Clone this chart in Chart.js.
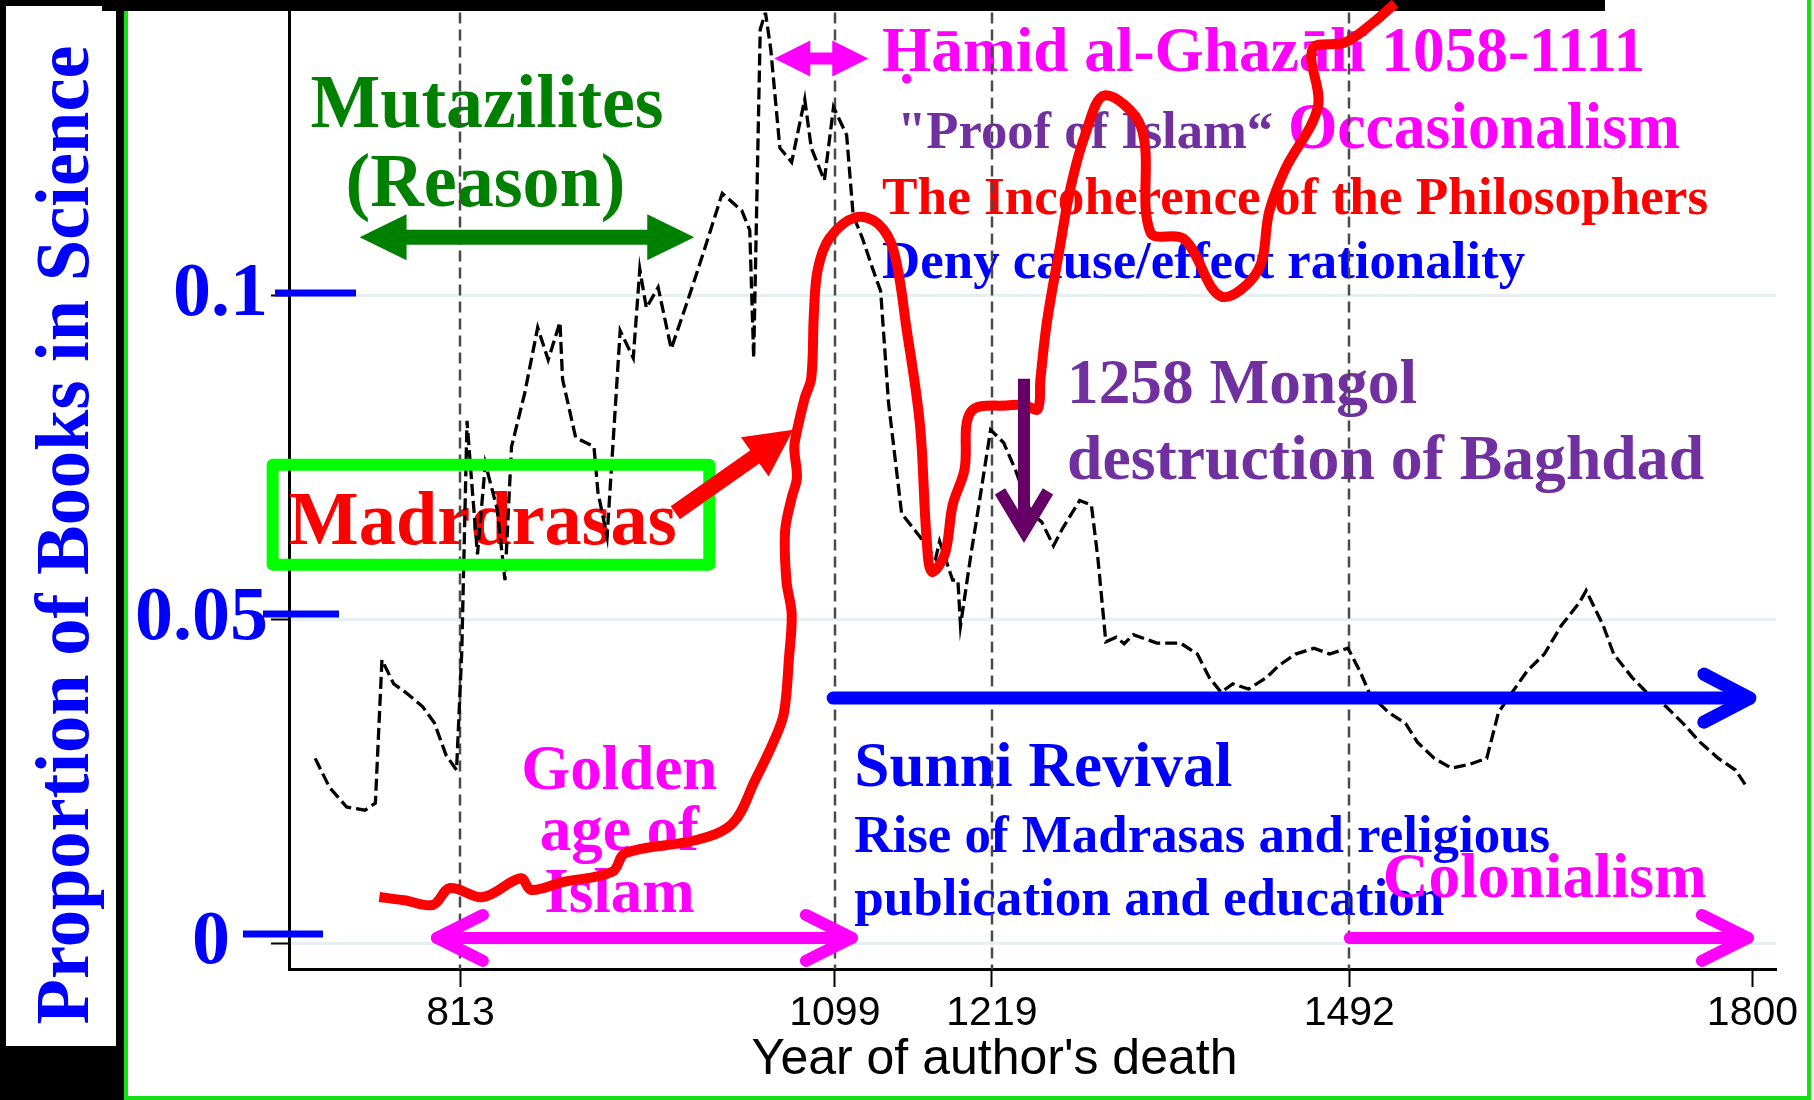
<!DOCTYPE html>
<html>
<head>
<meta charset="utf-8">
<script src="https://cdn.jsdelivr.net/npm/chart.js@4.4.1/dist/chart.umd.min.js"></script>
<style>
  html, body { margin: 0; padding: 0; background: #fff; }
  #wrap { width: 1814px; height: 1100px; }
</style>
</head>
<body>
<div id="wrap"><canvas id="scienceChart" width="1814" height="1100"></canvas></div>
<script>
// share of books in science, by year of the author's death (dashed black)
const scienceYears = [702, 713, 726, 740, 748, 753, 762, 771, 784, 793, 802, 810, 814, 818, 822, 826, 832, 841, 847, 852,
  862, 872, 880, 889, 891, 901, 915, 918, 925, 935, 945, 950, 955, 964, 974, 989, 999, 1013, 1028, 1034,
  1037, 1042, 1046, 1050, 1057, 1066, 1076, 1081, 1091, 1098, 1108, 1113, 1120, 1128, 1134, 1140, 1150, 1164, 1176, 1179,
  1189, 1193, 1195, 1203, 1208, 1218, 1228, 1237, 1249, 1257, 1266, 1273, 1286, 1295, 1300, 1306, 1314, 1320, 1327, 1345,
  1363, 1376, 1385, 1394, 1403, 1415, 1429, 1438, 1451, 1465, 1477, 1491, 1500, 1508, 1522, 1535, 1544, 1557, 1570, 1584,
  1597, 1606, 1615, 1628, 1641, 1654, 1668, 1673, 1686, 1694, 1708, 1721, 1734, 1747, 1760, 1774, 1787, 1796];
const scienceShare = [0.0285, 0.0240, 0.0210, 0.0205, 0.0216, 0.0437, 0.0400, 0.0387, 0.0365, 0.0340, 0.0290, 0.0267, 0.0450, 0.0806, 0.0700, 0.0600, 0.0740, 0.0670, 0.0560, 0.0766,
  0.0848, 0.0950, 0.0900, 0.0958, 0.0870, 0.0780, 0.0766, 0.0696, 0.0627, 0.0945, 0.0903, 0.1040, 0.0980, 0.1012, 0.0917, 0.1006, 0.1068, 0.1157, 0.1130, 0.1100,
  0.0903, 0.1410, 0.1436, 0.1380, 0.1227, 0.1205, 0.1302, 0.1227, 0.1177, 0.1290, 0.1247, 0.1123, 0.1088, 0.1040, 0.1006, 0.0834, 0.0663, 0.0627, 0.0593, 0.0620,
  0.0560, 0.0560, 0.0490, 0.0600, 0.0663, 0.0792, 0.0772, 0.0730, 0.0663, 0.0650, 0.0613, 0.0640, 0.0683, 0.0676, 0.0593, 0.0465, 0.0472, 0.0462, 0.0476, 0.0463,
  0.0463, 0.0446, 0.0410, 0.0387, 0.0400, 0.0392, 0.0410, 0.0428, 0.0446, 0.0455, 0.0446, 0.0455, 0.0420, 0.0383, 0.0356, 0.0339, 0.0310, 0.0285, 0.0270, 0.0276,
  0.0285, 0.0356, 0.0383, 0.0420, 0.0446, 0.0490, 0.0526, 0.0544, 0.0490, 0.0446, 0.0410, 0.0383, 0.0365, 0.0339, 0.0310, 0.0285, 0.0267, 0.0240];

// hand drawn madrasa curve (thick red)
const madrasaYears = [751, 770, 792, 805, 830, 859, 867, 891, 929, 939, 993, 1021, 1038, 1052, 1060, 1064, 1066, 1062, 1061, 1066,
  1070, 1068, 1070, 1076, 1081, 1083, 1086, 1095, 1115, 1132, 1144, 1154, 1164, 1169, 1173, 1183, 1189, 1198, 1203, 1232,
  1244, 1254, 1256, 1261, 1271, 1279, 1290, 1305, 1333, 1340, 1366, 1394, 1422, 1431, 1443, 1468, 1464, 1489, 1510, 1527];
const madrasaShare = [0.0071, 0.0066, 0.0059, 0.0085, 0.0071, 0.0100, 0.0082, 0.0094, 0.0110, 0.0139, 0.0159, 0.0185, 0.0251, 0.0310, 0.0354, 0.0441, 0.0508, 0.0559, 0.0636, 0.0687,
  0.0718, 0.0764, 0.0790, 0.0841, 0.0872, 0.0972, 0.1040, 0.1088, 0.1120, 0.1110, 0.1068, 0.0945, 0.0800, 0.0627, 0.0573, 0.0600, 0.0676, 0.0730, 0.0820, 0.0830,
  0.0830, 0.0824, 0.0869, 0.0958, 0.1075, 0.1165, 0.1246, 0.1308, 0.1259, 0.1097, 0.1086, 0.0998, 0.1037, 0.1130, 0.1194, 0.1290, 0.1380, 0.1390, 0.1420, 0.1450];

const xTickYears = [813, 1099, 1219, 1492, 1800];
const eventYears = [813, 1099, 1219, 1492];
const yTickValues = [0, 0.05, 0.1];
const yTickLabels = ['0  ', '0.05', '0.1'];

const SERIF = '"Liberation Serif", "Times New Roman", serif';
const SANS = '"Liberation Sans", Arial, sans-serif';
const GREEN = '#008000', MAGENTA = '#ff00ff', PURPLE = '#7030a0', RED = '#ff0000', BLUE = '#0000ff';

// annotation texts: [text, year, value, size, colour, width, align]
const notes = [
  ['Mutazilites', 698.5, 0.1259, 76, GREEN, 353],
  ['(Reason)', 725.2, 0.1137, 76, GREEN, 280],
  ['\u1E24\u0101mid al-Ghaz\u0101l\u012B 1058-1111', 1135.1, 0.1345, 64, MAGENTA, 763],
  ['"Proof of Islam\u201C', 1146.6, 0.1227, 53, PURPLE, 376],
  ['Occasionalism', 1445.1, 0.1227, 66, MAGENTA, 392],
  ['The Incoherence of the Philosophers', 1135.1, 0.1125, 53, RED, 826],
  ['Deny cause/effect rationality', 1135.1, 0.1026, 53, BLUE, 643],
  ['1258 Mongol', 1276.4, 0.0834, 64, PURPLE, 350],
  ['destruction of Baghdad', 1276.4, 0.0716, 64, PURPLE, 637],
  ['Madrdrasas', 681.7, 0.0616, 76, RED, 388],
  ['Sunni Revival', 1113.8, 0.0243, 63, BLUE, 378],
  ['Rise of Madrasas and religious', 1113.8, 0.0140, 52, BLUE, 696],
  ['publication and education', 1113.8, 0.0043, 52, BLUE, 590],
  ['Colonialism', 1517.6, 0.0071, 64, MAGENTA, 324],
  ['Golden', 934.4, 0.0237, 63, MAGENTA, 0, 'center'],
  ['age of', 934.4, 0.0143, 63, MAGENTA, 0, 'center'],
  ['Islam', 934.4, 0.0048, 63, MAGENTA, 0, 'center']
];

function drawText(ctx, text, x, y, size, color, width, align, family, weight) {
  ctx.save();
  ctx.font = (weight || 'bold') + ' ' + size + 'px ' + (family || SERIF);
  ctx.fillStyle = color;
  ctx.textBaseline = 'alphabetic';
  ctx.textAlign = align || 'left';
  ctx.translate(x, y);
  if (width) ctx.scale(width / ctx.measureText(text).width, 1);
  ctx.fillText(text, 0, 0);
  ctx.restore();
}

function triArrow(ctx, x1, y1, x2, y2, shaft, len, half, color, both) {
  const a = Math.atan2(y2 - y1, x2 - x1);
  const ux = Math.cos(a), uy = Math.sin(a);
  ctx.save();
  ctx.fillStyle = color;
  ctx.strokeStyle = color;
  ctx.lineWidth = shaft;
  ctx.beginPath();
  ctx.moveTo(both ? x1 + ux * len * 0.8 : x1, both ? y1 + uy * len * 0.8 : y1);
  ctx.lineTo(x2 - ux * len * 0.8, y2 - uy * len * 0.8);
  ctx.stroke();
  const head = (tx, ty, ang) => {
    const cx = Math.cos(ang), cy = Math.sin(ang);
    const bx = tx - cx * len, by = ty - cy * len;
    ctx.beginPath();
    ctx.moveTo(tx, ty);
    ctx.lineTo(bx - cy * half, by + cx * half);
    ctx.lineTo(bx + cy * half, by - cx * half);
    ctx.closePath();
    ctx.fill();
  };
  head(x2, y2, a);
  if (both) head(x1, y1, a + Math.PI);
  ctx.restore();
}

function chevronArrow(ctx, x1, y1, x2, y2, width, back, half, color, both, join) {
  ctx.save();
  ctx.strokeStyle = color;
  ctx.lineWidth = width;
  ctx.lineCap = join === 'miter' ? 'butt' : 'round';
  ctx.lineJoin = join || 'round';
  ctx.beginPath();
  ctx.moveTo(x1, y1);
  ctx.lineTo(x2, y2);
  ctx.stroke();
  const a = Math.atan2(y2 - y1, x2 - x1);
  const wing = (tx, ty, ang) => {
    const cx = Math.cos(ang), cy = Math.sin(ang);
    const bx = tx - cx * back, by = ty - cy * back;
    ctx.beginPath();
    ctx.moveTo(bx - cy * half, by + cx * half);
    ctx.lineTo(tx, ty);
    ctx.lineTo(bx + cy * half, by - cx * half);
    ctx.stroke();
  };
  wing(x2, y2, a);
  if (both) wing(x1, y1, a + Math.PI);
  ctx.restore();
}

const overlay = {
  id: 'overlay',
  beforeDraw(chart) {
    const ctx = chart.ctx;
    const W = chart.width, H = chart.height;
    ctx.save();
    ctx.fillStyle = '#fff';
    ctx.fillRect(0, 0, W, H);
    ctx.fillStyle = '#000';
    ctx.fillRect(0, 0, 124, H);
    ctx.fillStyle = '#fff';
    ctx.fillRect(6, 6, 110, 1040);
    ctx.fillStyle = '#000';
    ctx.fillRect(102, 0, 1503, 11);
    // green frame
    ctx.strokeStyle = '#16e016';
    ctx.lineWidth = 4;
    ctx.beginPath();
    ctx.moveTo(126, 11); ctx.lineTo(126, H - 2); ctx.lineTo(1809, H - 2); ctx.lineTo(1809, 0);
    ctx.stroke();
    // rotated axis title
    ctx.translate(88, 535);
    ctx.rotate(-Math.PI / 2);
    drawText(ctx, 'Proportion of Books in Science', 0, 0, 76, BLUE, 979, 'center');
    ctx.restore();
  },
  beforeDatasetsDraw(chart) {
    const ctx = chart.ctx;
    const xs = chart.scales.x, ys = chart.scales.y, area = chart.chartArea;
    notes.forEach(n => drawText(ctx, n[0], xs.getPixelForValue(n[1]), ys.getPixelForValue(n[2]), n[3], n[4], n[5], n[6]));
    ctx.save();
    ctx.strokeStyle = '#4a4a4a';
    ctx.lineWidth = 2.5;
    ctx.setLineDash([11, 6]);
    eventYears.forEach(yr => {
      const px = Math.round(xs.getPixelForValue(yr));
      ctx.beginPath();
      ctx.moveTo(px, area.top);
      ctx.lineTo(px, area.bottom);
      ctx.stroke();
    });
    ctx.restore();
  },
  afterDatasetsDraw(chart) {
    const ctx = chart.ctx;
    const xs = chart.scales.x, ys = chart.scales.y, area = chart.chartArea;
    const X = v => xs.getPixelForValue(v), Y = v => ys.getPixelForValue(v);

    // blue dashes over the y ticks
    ctx.save();
    ctx.strokeStyle = BLUE;
    ctx.lineWidth = 7;
    [[0.1, -14, 67, -2], [0.05, -26, 50, -5], [0, -46, 34, -9]].forEach(d => {
      ctx.beginPath();
      ctx.moveTo(area.left + d[1], Y(d[0]) + d[3]);
      ctx.lineTo(area.left + d[2], Y(d[0]) + d[3]);
      ctx.stroke();
    });
    ctx.restore();

    // green box round the Madrasas label
    ctx.save();
    ctx.strokeStyle = '#00ff00';
    ctx.lineWidth = 12;
    ctx.lineJoin = 'round';
    ctx.strokeRect(X(669.5), Y(0.0738), X(1003.1) - X(669.5), Y(0.0584) - Y(0.0738));
    ctx.restore();

    triArrow(ctx, X(735.9), Y(0.1089), X(991.6), Y(0.1089), 15, 47, 23, GREEN, true);
    triArrow(ctx, X(1052.7), Y(0.1365), X(1124.5), Y(0.1365), 12, 36, 18, MAGENTA, true);
    triArrow(ctx, X(977.1), Y(0.0664), X(1067.2), Y(0.0792), 16, 47, 24, RED, false);
    chevronArrow(ctx, X(1243.5), Y(0.0871), X(1243.5), Y(0.0626) - 6, 12, 40, 24, '#660066', false, 'miter');
    chevronArrow(ctx, X(1097.7), Y(0.0378), X(1798), Y(0.0378), 13, 46, 24, BLUE, false);
    chevronArrow(ctx, X(1492.4), Y(0.0008), X(1796.5), Y(0.0008), 12, 46, 23, MAGENTA, false);
    chevronArrow(ctx, X(795), Y(0.0008), X(1112), Y(0.0008), 12, 46, 23, MAGENTA, true);

    // x axis title, centred where the original sits
    drawText(ctx, "Year of author's death", X(1221), 1074, 50, '#000', 0, 'center', SANS, 'normal');
  }
};

const ctx = document.getElementById('scienceChart').getContext('2d');

new Chart(ctx, {
  type: 'line',
  data: {
    datasets: [{
      label: 'Madrasas',
      data: madrasaYears.map((yr, i) => ({ x: yr, y: madrasaShare[i] })),
      borderColor: RED,
      borderWidth: 10,
      pointRadius: 0,
      tension: 0.35,
      clip: false,
      order: 0
    }, {
      label: 'Proportion of books in science',
      data: scienceYears.map((yr, i) => ({ x: yr, y: scienceShare[i] })),
      borderColor: '#000',
      borderWidth: 3.3,
      borderDash: [12, 5],
      pointRadius: 0,
      tension: 0,
      order: 1
    }]
  },
  options: {
    responsive: false,
    devicePixelRatio: 1,
    animation: false,
    layout: { padding: { top: 11, right: 38, left: 0, bottom: 0 } },
    plugins: {
      legend: { display: false },
      tooltip: { enabled: false }
    },
    scales: {
      x: {
        type: 'linear',
        min: 682,
        max: 1818,
        afterBuildTicks: s => { s.ticks = xTickYears.map(v => ({ value: v })); },
        afterFit: s => { s.height = 131; },
        ticks: {
          color: '#000',
          font: { family: SANS, size: 41 },
          padding: 2,
          maxRotation: 0,
          autoSkip: false,
          callback: v => String(v)
        },
        grid: { drawOnChartArea: false, tickLength: 18, tickColor: '#000', tickWidth: 2 },
        border: { color: '#000', width: 3 }
      },
      y: {
        min: -0.004,
        max: 0.1436,
        afterBuildTicks: s => { s.ticks = yTickValues.map(v => ({ value: v })); },
        afterFit: s => { s.width = 289; },
        ticks: {
          color: BLUE,
          font: { family: SERIF, size: 76, weight: 'bold', lineHeight: 0.25 },
          padding: 3,
          callback: v => yTickLabels[yTickValues.indexOf(v)]
        },
        grid: { color: '#e6eff1', lineWidth: 3, tickColor: '#000', tickLength: 18, tickWidth: 2 },
        border: { color: '#000', width: 3 }
      }
    }
  },
  plugins: [overlay]
});
</script>
</body>
</html>
